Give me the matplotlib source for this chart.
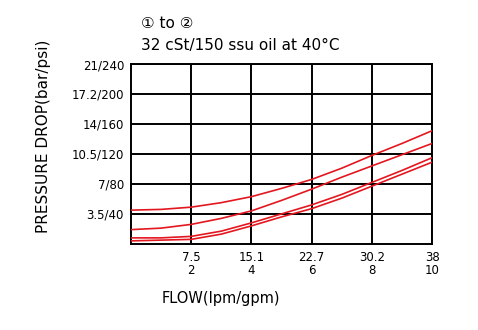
import numpy as np
import matplotlib.pyplot as plt

plt.rcParams['font.family'] = ['DejaVu Sans', 'Noto Sans CJK SC']

# flow in gpm, pressure drop in psi
flow_gpm = [0, 1, 2, 3, 4, 5, 6, 7, 8, 9, 10]
curve_top = [45, 46, 49, 55, 63, 74, 86, 101, 118, 134, 151]
curve_mid = [19, 21, 26, 34, 44, 58, 73, 89, 104, 119, 134]
curve_low_a = [8, 8, 10, 17, 28, 40, 52, 66, 82, 98, 115]
curve_low_b = [4, 5, 6, 13, 24, 36, 47, 61, 77, 93, 109]

x_ticks = [2, 4, 6, 8, 10]
x_labels = ['7.5\n2', '15.1\n4', '22.7\n6', '30.2\n8', '38\n10']
y_ticks = [40, 80, 120, 160, 200, 240]
y_labels = ['3.5/40', '7/80', '10.5/120', '14/160', '17.2/200', '21/240']

fig = plt.figure(figsize=(4.78, 3.3), dpi=100)
ax = fig.add_axes([0.274, 0.261, 0.63, 0.545])

red = '#e3171f'
for ys in [curve_top, curve_mid, curve_low_a, curve_low_b]:
    ax.plot(flow_gpm, ys, color=red, lw=1.2, zorder=3)

ax.set_xlim(0, 10)
ax.set_ylim(0, 240)
ax.set_xticks(x_ticks)
ax.set_xticklabels(x_labels, fontsize=8.5, linespacing=1.0)
ax.set_yticks(y_ticks)
ax.set_yticklabels(y_labels, fontsize=8.5)
ax.tick_params(length=0, pad=5)
ax.grid(True, color='black', lw=1.4)
for s in ax.spines.values():
    s.set_linewidth(1.4)

ax.set_xlabel('FLOW(lpm/gpm)', fontsize=10.5)
ax.xaxis.set_label_coords(0.3, -0.26)
ax.set_ylabel('PRESSURE DROP(bar/psi)', fontsize=11)
ax.yaxis.set_label_coords(-0.265, 0.6)

fig.text(0.295, 0.93, '① to ②', fontsize=11, va='center')
fig.text(0.295, 0.862, '32 cSt/150 ssu oil at 40°C', fontsize=11, va='center')

fig.savefig('out.png', dpi=100)
